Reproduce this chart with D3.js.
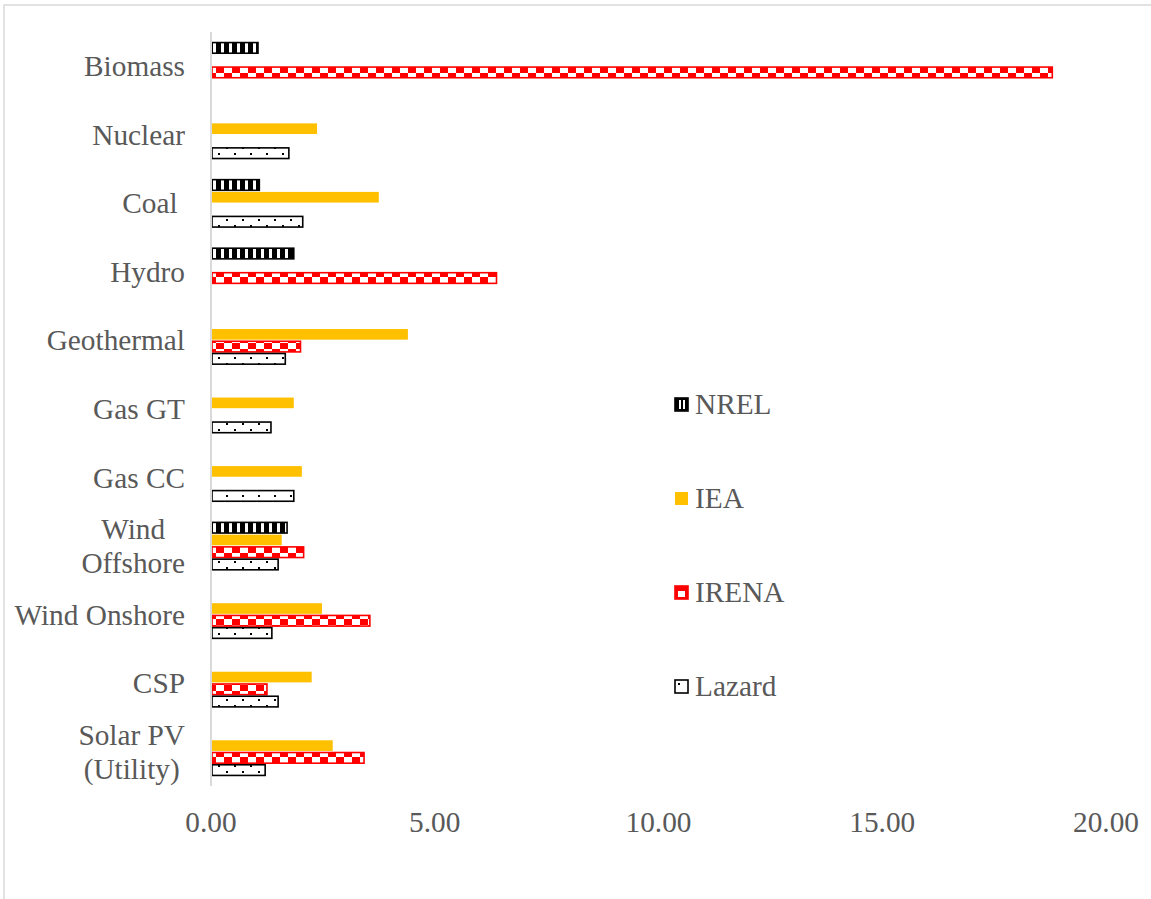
<!DOCTYPE html>
<html>
<head>
<meta charset="utf-8">
<script src="https://cdn.jsdelivr.net/npm/d3@7"></script>
<style>
  body { margin: 0; background: #fff; }
  svg { display: block; font-family: "Liberation Serif", "Times New Roman", serif; }
</style>
</head>
<body>
<svg id="chart" width="1151" height="899"></svg>
<script>
// categories top to bottom
var categories = ["Biomass", "Nuclear", "Coal ", "Hydro", "Geothermal", "Gas GT", "Gas CC",
  "Wind\nOffshore", "Wind Onshore", "CSP", "Solar PV\n(Utility)"];
var seriesNames = ["NREL", "IEA", "IRENA", "Lazard"];

var nrel   = [1.05, null, 1.08, 1.85, null, null, null, 1.70, null, null, null];
var iea    = [null, 2.37, 3.75, null, 4.40, 1.85, 2.03, 1.58, 2.48, 2.25, 2.72];
var irena  = [18.8, null, null, 6.38, 2.00, null, null, 2.07, 3.55, 1.25, 3.42];
var lazard = [null, 1.74, 2.05, null, 1.66, 1.34, 1.85, 1.50, 1.36, 1.50, 1.21];

var tickValues = [0, 5, 10, 15, 20];

var seriesValues = [nrel, iea, irena, lazard];

var svg = d3.select("svg");
var textColor = "#595959";
var fontSize = 29.3;

// outer chart border (cropped at right and bottom)
svg.append("rect")
  .attr("x", 4).attr("y", 5)
  .attr("width", 1200).attr("height", 1000)
  .attr("fill", "none")
  .attr("stroke", "#d9d9d9")
  .attr("stroke-width", 1.5);

var defs = svg.append("defs");

// NREL: vertical black stripes
var pN = defs.append("pattern").attr("id", "pat-nrel")
  .attr("patternUnits", "userSpaceOnUse").attr("width", 8).attr("height", 8);
pN.append("rect").attr("width", 8).attr("height", 8).attr("fill", "#000");
pN.append("rect").attr("x", 5).attr("width", 3).attr("height", 8).attr("fill", "#fff");

// IRENA: red / white checker
var pI = defs.append("pattern").attr("id", "pat-irena")
  .attr("patternUnits", "userSpaceOnUse").attr("width", 16).attr("height", 12)
  .attr("y", 1);
pI.append("rect").attr("width", 16).attr("height", 12).attr("fill", "#fff");
pI.append("rect").attr("x", 0).attr("y", 0).attr("width", 8).attr("height", 6).attr("fill", "#ff0000");
pI.append("rect").attr("x", 8).attr("y", 6).attr("width", 8).attr("height", 6).attr("fill", "#ff0000");

// Lazard: staggered dots
var pL = defs.append("pattern").attr("id", "pat-lazard")
  .attr("patternUnits", "userSpaceOnUse").attr("width", 16).attr("height", 12)
  .attr("x", 2).attr("y", 1);
pL.append("rect").attr("width", 16).attr("height", 12).attr("fill", "#fff");
pL.append("rect").attr("x", 0).attr("y", 2).attr("width", 2).attr("height", 2).attr("fill", "#000");
pL.append("rect").attr("x", 8).attr("y", 8).attr("width", 2).attr("height", 2).attr("fill", "#000");

var styles = {
  NREL:   { fill: "url(#pat-nrel)", stroke: "#000" },
  IEA:    { fill: "#ffc000", stroke: "none" },
  IRENA:  { fill: "url(#pat-irena)", stroke: "#ff0000" },
  Lazard: { fill: "url(#pat-lazard)", stroke: "#000" }
};

var x = d3.scaleLinear().domain([0, 20]).range([211, 1106]);

var y = d3.scaleBand()
  .domain(categories)
  .range([32, 786])
  .paddingInner(0.285)
  .paddingOuter(0.1425);

var y1 = d3.scaleBand()
  .domain(seriesNames)
  .range([0, y.bandwidth()]);

// bars
var rows = [];
categories.forEach(function(c, i) {
  seriesNames.forEach(function(s, j) {
    var v = seriesValues[j][i];
    if (v != null) rows.push({ cat: c, series: s, value: v });
  });
});

svg.append("g").selectAll("rect")
  .data(rows)
  .enter().append("rect")
  .attr("x", x(0) + 1)
  .attr("y", function(d) { return y(d.cat) + y1(d.series) + 0.8; })
  .attr("width", function(d) { return x(d.value) - x(0) - 1; })
  .attr("height", y1.bandwidth() - 1.6)
  .attr("fill", function(d) { return styles[d.series].fill; })
  .attr("stroke", function(d) { return styles[d.series].stroke; })
  .attr("stroke-width", 1.6);

// vertical axis line
svg.append("line")
  .attr("x1", x(0)).attr("x2", x(0))
  .attr("y1", 32).attr("y2", 786)
  .attr("stroke", "#d9d9d9").attr("stroke-width", 2);

// x tick labels
svg.append("g").selectAll("text")
  .data(tickValues)
  .enter().append("text")
  .attr("x", function(d) { return x(d); })
  .attr("y", 832)
  .attr("text-anchor", "middle")
  .attr("font-size", fontSize)
  .attr("fill", textColor)
  .text(function(d) { return d3.format(".2f")(d); });

// category labels
var labelRight = 185;
var lineH = 34;
categories.forEach(function(c) {
  var lines = c.split("\n");
  var cy = y(c) + y.bandwidth() / 2;
  var g = svg.append("g");
  var texts = lines.map(function(l, k) {
    return g.append("text")
      .attr("y", cy + (k - (lines.length - 1) / 2) * lineH + 10)
      .attr("font-size", fontSize)
      .attr("fill", textColor)
      .style("white-space", "pre")
      .text(l);
  });
  if (lines.length === 1) {
    texts[0].attr("x", labelRight).attr("text-anchor", "end");
  } else {
    var maxW = d3.max(texts, function(t) { return t.node().getComputedTextLength(); });
    texts.forEach(function(t) {
      t.attr("x", labelRight - maxW / 2).attr("text-anchor", "middle");
    });
  }
});

// legend
var legendY = d3.scalePoint().domain(seriesNames).range([404, 686]);
var lg = svg.append("g").selectAll("g")
  .data(seriesNames)
  .enter().append("g")
  .attr("transform", function(d) { return "translate(675," + legendY(d) + ")"; });

lg.append("rect")
  .attr("x", 0).attr("y", -6)
  .attr("width", 13).attr("height", 13)
  .attr("fill", function(d) {
    if (d === "IEA") return "#ffc000";
    if (d === "NREL") return "#000";
    if (d === "IRENA") return "#ff0000";
    return "#fff";
  })
  .attr("stroke", function(d) { return styles[d].stroke; })
  .attr("stroke-width", 1.6);

// small inner marks for the legend swatches
lg.filter(function(d) { return d === "NREL"; })
  .append("rect").attr("x", 4).attr("y", -4).attr("width", 2).attr("height", 9).attr("fill", "#fff");
lg.filter(function(d) { return d === "NREL"; })
  .append("rect").attr("x", 8).attr("y", -4).attr("width", 2).attr("height", 9).attr("fill", "#fff");
lg.filter(function(d) { return d === "IRENA"; })
  .append("rect").attr("x", 3).attr("y", -1).attr("width", 7).attr("height", 6).attr("fill", "#fff");
lg.filter(function(d) { return d === "Lazard"; })
  .append("rect").attr("x", 3).attr("y", -3).attr("width", 2).attr("height", 2).attr("fill", "#000");

lg.append("text")
  .attr("x", 20).attr("y", 10)
  .attr("font-size", fontSize)
  .attr("fill", textColor)
  .text(function(d) { return d; });
</script>
</body>
</html>
